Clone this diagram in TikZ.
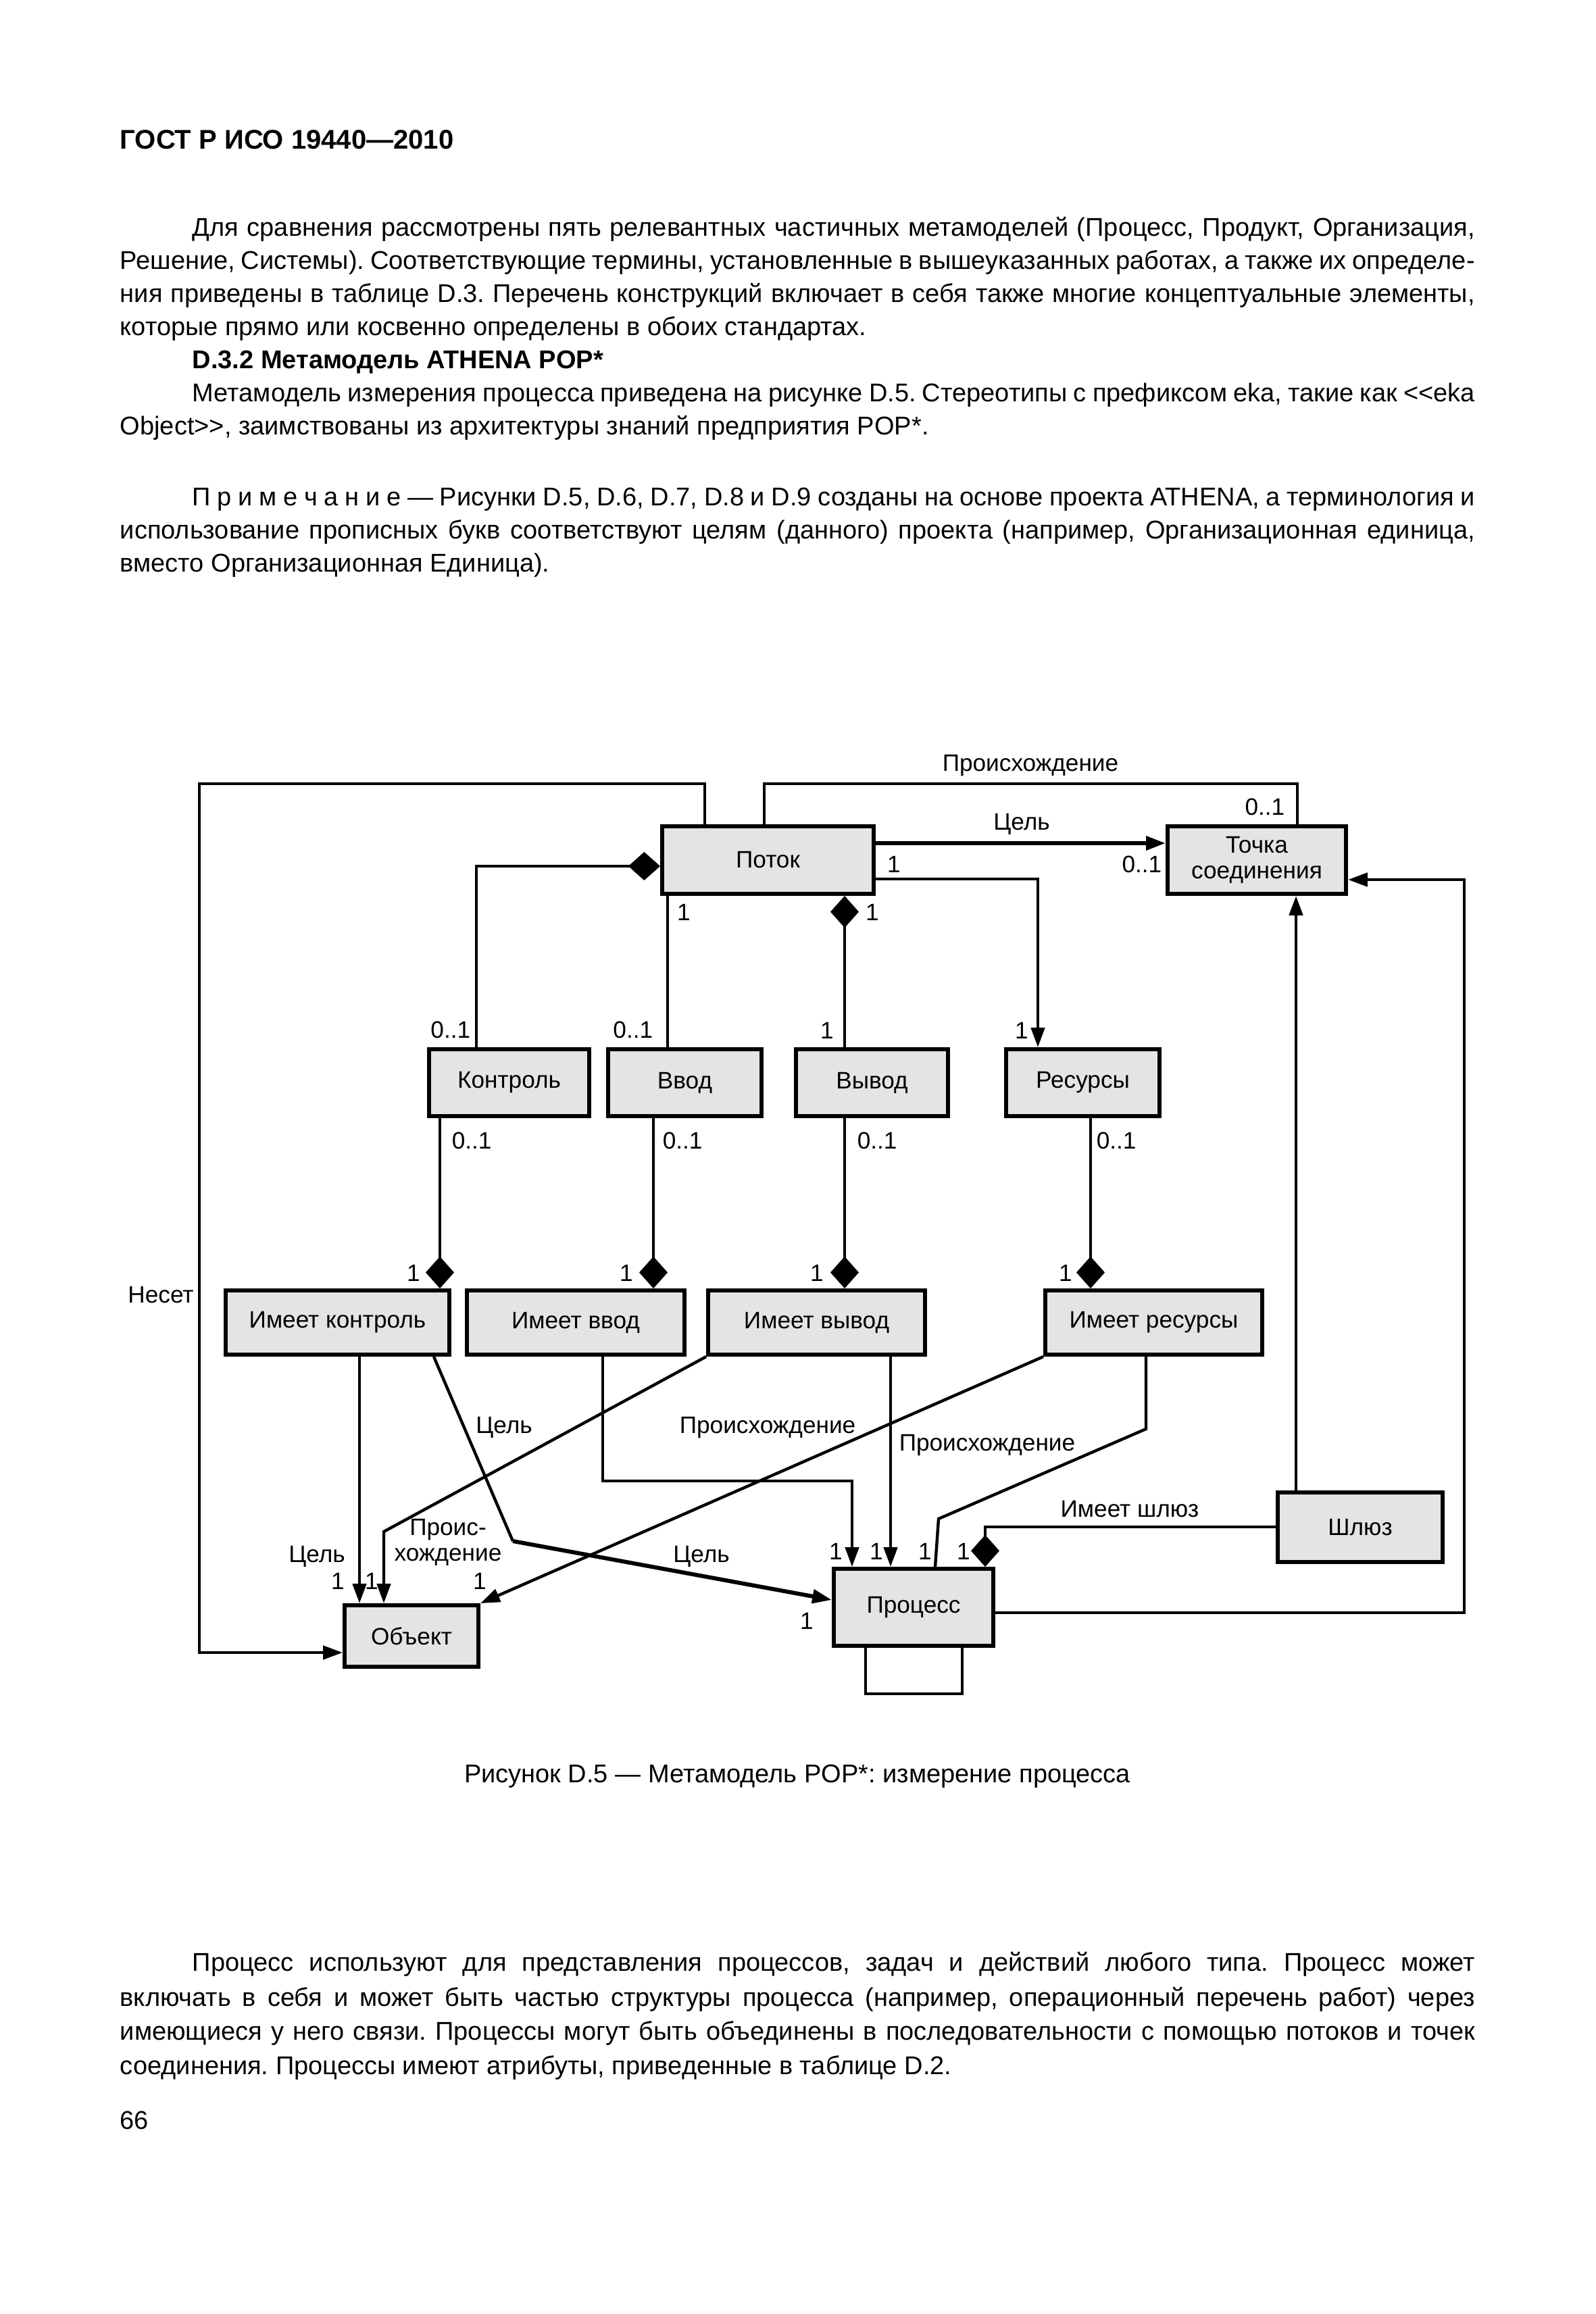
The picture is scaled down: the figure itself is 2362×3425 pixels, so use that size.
\documentclass[tikz,border=0pt]{standalone}
\usepackage{fontspec}
\setmainfont{Liberation Sans}
\usetikzlibrary{arrows.meta,calc}
\definecolor{boxfill}{HTML}{E4E4E4}
\frenchspacing
\newcommand\bodyf{\fontsize{9.5}{12}\selectfont\frenchspacing}
\newcommand\dgf{\fontsize{8.8}{9.6}\selectfont}
\newlength\fullw \setlength\fullw{501.25pt}
\newlength\indw \setlength\indw{474.5pt}
\begin{document}
\begin{tikzpicture}[x=0.25pt,y=-0.25pt,
  box/.style={draw, line width=1.5pt, fill=boxfill, inner sep=0pt, font=\dgf, align=center},
  conn/.style={line width=1.1pt},
  thk/.style={line width=1.5pt},
  arr/.style={-{Triangle[length=7.2pt,width=5pt]}},
  dmds/.style={{Diamond[length=11.8pt,width=10.5pt]}-},
  dmde/.style={-{Diamond[length=11.8pt,width=10.5pt]}},
  lab/.style={font=\dgf, inner sep=0pt},
  txt/.style={font=\bodyf, inner sep=0pt, anchor=base west}]
\useasboundingbox (0,0) rectangle (2362,3425);
\fill[white] (0,0) rectangle (2362,3425);

% ---------- page text ----------
\node[txt, font=\bfseries\fontsize{10}{12}\selectfont] (hdr) at (177,221) {ГОСТ Р ИСО 19440—2010};
\node[txt] (t1) at (284,349) {\hbox to\indw{Для сравнения рассмотрены пять релевантных частичных метамоделей (Процесс, Продукт, Организация,}};
\node[txt] (t2) at (177,398) {\hbox to\fullw{Решение, Системы). Соответствующие термины, установленные в вышеуказанных работах, а также их определе-}};
\node[txt] (t3) at (177,447) {\hbox to\fullw{ния приведены в таблице D.3. Перечень конструкций включает в себя также многие концептуальные элементы,}};
\node[txt] (t4) at (177,496) {которые прямо или косвенно определены в обоих стандартах.};
\node[txt, font=\bfseries\bodyf] (t5) at (284,545) {D.3.2 Метамодель ATHENA POP*};
\node[txt] (t6) at (284,594) {\hbox to\indw{Метамодель измерения процесса приведена на рисунке D.5. Стереотипы с префиксом eka, такие как <{}<eka}};
\node[txt] (t7) at (177,643) {Object>{}>, заимствованы из архитектуры знаний предприятия POP*.};
\node[txt] (t8) at (284,748) {\hbox to\indw{П р и м е ч а н и е — Рисунки D.5, D.6, D.7, D.8 и D.9 созданы на основе проекта ATHENA, а терминология и}};
\node[txt] (t9) at (177,797) {\hbox to\fullw{использование прописных букв соответствуют целям (данного) проекта (например, Организационная единица,}};
\node[txt] (t10) at (177,846) {вместо Организационная Единица).};

\node[txt, anchor=base] (cap) at (1180,2638) {Рисунок D.5 — Метамодель POP*: измерение процесса};

\node[txt] (b1) at (284,2917) {\hbox to\indw{Процесс используют для представления процессов, задач и действий любого типа. Процесс может}};
\node[txt] (b2) at (177,2969) {\hbox to\fullw{включать в себя и может быть частью структуры процесса (например, операционный перечень работ) через}};
\node[txt] (b3) at (177,3019) {\hbox to\fullw{имеющиеся у него связи. Процессы могут быть объединены в последовательности с помощью потоков и точек}};
\node[txt] (b4) at (177,3070) {соединения. Процессы имеют атрибуты, приведенные в таблице D.2.};
\node[txt] (pg) at (177,3151) {66};

% ---------- boxes ----------
\node[box, minimum width=313*0.25pt, minimum height=100*0.25pt] (potok) at (1136.5,1273) {Поток};
\node[box, minimum width=264*0.25pt, minimum height=100*0.25pt] (tochka) at (1860,1273) {Точка\\соединения};
\node[box, minimum width=237*0.25pt, minimum height=99*0.25pt] (kontr) at (753.5,1602.5) {Контроль};
\node[box, minimum width=227*0.25pt, minimum height=99*0.25pt] (vvod) at (1013.5,1602.5) {Ввод};
\node[box, minimum width=225*0.25pt, minimum height=99*0.25pt] (vyvod) at (1290.5,1602.5) {Вывод};
\node[box, minimum width=227*0.25pt, minimum height=99*0.25pt] (res) at (1602.5,1602.5) {Ресурсы};
\node[box, minimum width=331*0.25pt, minimum height=95*0.25pt] (ik) at (499.5,1957.5) {Имеет контроль};
\node[box, minimum width=322*0.25pt, minimum height=95*0.25pt] (iv) at (852,1957.5) {Имеет ввод};
\node[box, minimum width=321*0.25pt, minimum height=95*0.25pt] (ivy) at (1208.5,1957.5) {Имеет вывод};
\node[box, minimum width=321*0.25pt, minimum height=95*0.25pt] (ir) at (1707.5,1957.5) {Имеет ресурсы};
\node[box, minimum width=198*0.25pt, minimum height=91*0.25pt] (obj) at (609,2421.5) {Объект};
\node[box, minimum width=236*0.25pt, minimum height=114*0.25pt] (proc) at (1352,2379) {Процесс};
\node[box, minimum width=244*0.25pt, minimum height=103*0.25pt] (shl) at (2013,2260.5) {Шлюз};

% ---------- coordinates ----------
\coordinate (n1) at (1043,1160); \coordinate (n2) at (295,1160); \coordinate (n3) at (295,2446);
\coordinate (p1) at (1131,1160); \coordinate (p2) at (1920,1160);
\coordinate (g1) at (1500,1248);
\coordinate (r1) at (1536,1301);
\coordinate (k1) at (705,1282);
\coordinate (v1) at (988,1400);
\coordinate (w1) at (1250,1400);
\coordinate (d1) at (651,1780); \coordinate (d2) at (967,1780);
\coordinate (d3) at (1250,1780); \coordinate (d4) at (1614,1780);
\coordinate (a12) at (532,2200);
\coordinate (a13) at (642,2100); \coordinate (a13m) at (759,2281); \coordinate (a13e) at (1100,2368);
\coordinate (a14m) at (568,2267);
\coordinate (a15) at (892,2192); \coordinate (a15b) at (1261,2192);
\coordinate (a16) at (1318,2200);
\coordinate (a18a) at (1696,2115); \coordinate (a18b) at (1389,2248); \coordinate (a18c) at (1384,2300);
\coordinate (a19) at (1458,2260);
\coordinate (a20) at (1918,1800);
\coordinate (a21a) at (2167,2387); \coordinate (a21b) at (2167,1302);
\coordinate (a22a) at (1281,2507); \coordinate (a22b) at (1424,2507);

% ---------- connectors ----------
\draw[conn, arr] (n1 |- potok.north) -- (n1) -- (n2) -- (n3) -- (n3 -| obj.west);
\draw[conn] (p1 |- potok.north) -- (p1) -- (p2) -- (p2 |- tochka.north);
\draw[thk, arr] (g1 -| potok.east) -- (g1 -| tochka.west);
\draw[conn, arr] (r1 -| potok.east) -- (r1) -- (r1 |- res.north);
\draw[conn, dmds] (k1 -| potok.west) -- (k1) -- (k1 |- kontr.north);
\draw[conn] (v1 |- potok.south) -- (v1 |- vvod.north);
\draw[conn, dmds] (w1 |- potok.south) -- (w1 |- vyvod.north);
\draw[conn, dmde] (d1 |- kontr.south) -- (d1 |- ik.north);
\draw[conn, dmde] (d2 |- vvod.south) -- (d2 |- iv.north);
\draw[conn, dmde] (d3 |- vyvod.south) -- (d3 |- ivy.north);
\draw[conn, dmde] (d4 |- res.south) -- (d4 |- ir.north);
\draw[conn, arr] (a12 |- ik.south) -- (a12 |- obj.north);
\draw[conn] (a13 |- ik.south) -- (a13m);
\draw[thk, arr] (a13m) -- (a13e -| proc.west);
\draw[conn, arr] (ivy.south west) -- (a14m) -- (a14m |- obj.north);
\draw[conn, arr] (a15 |- iv.south) -- (a15) -- (a15b) -- (a15b |- proc.north);
\draw[conn, arr] (a16 |- ivy.south) -- (a16 |- proc.north);
\draw[conn, arr] (ir.south west) -- (obj.north east);
\draw[conn] (a18a |- ir.south) -- (a18a) -- (a18b) -- (a18c |- proc.north);
\draw[conn, dmds] (a19 |- proc.north) -- (a19) -- (a19 -| shl.west);
\draw[conn, arr] (a20 |- shl.north) -- (a20 |- tochka.south);
\draw[conn, arr] (a21a -| proc.east) -- (a21a) -- (a21b) -- (a21b -| tochka.east);
\draw[conn] (a22a |- proc.south) -- (a22a) -- (a22b) -- (a22b |- proc.south);

% ---------- labels ----------
\node[lab] (l1) at (1525,1133) {Происхождение};
\node[lab, anchor=east] (l2) at (1902,1194) {0..1};
\node[lab] (l3) at (1512,1220) {Цель};
\node[lab, anchor=east] (l4) at (1720,1279) {0..1};
\node[lab] (l5) at (1323,1279) {1};
\node[lab] (l6) at (1512,1525) {1};
\node[lab, anchor=east] (l7) at (697,1524) {0..1};
\node[lab] (l8) at (1012,1350) {1};
\node[lab, anchor=east] (l9) at (967,1524) {0..1};
\node[lab] (l10) at (1291,1350) {1};
\node[lab] (l11) at (1224,1525) {1};
\node[lab, anchor=west] (l12) at (668,1688) {0..1};
\node[lab, anchor=west] (l13) at (980,1688) {0..1};
\node[lab, anchor=west] (l14) at (1268,1688) {0..1};
\node[lab, anchor=west] (l15) at (1622,1688) {0..1};
\node[lab] (l16) at (612,1884) {1};
\node[lab] (l17) at (927,1884) {1};
\node[lab] (l18) at (1209,1884) {1};
\node[lab] (l19) at (1577,1884) {1};
\node[lab] (l20) at (238,1917) {Несет};
\node[lab] (l21) at (746,2113) {Цель};
\node[lab, anchor=west] (l22) at (1005,2113) {Происхождение};
\node[lab] (l23) at (1461,2139) {Происхождение};
\node[lab] (l24) at (1672,2234) {Имеет шлюз};
\node[lab, align=center] (l25) at (663,2283) {Проис-\\хождение};
\node[lab] (l26) at (469,2304) {Цель};
\node[lab] (l27) at (1038,2304) {Цель};
\node[lab] (l28) at (500,2340) {1};
\node[lab] (l29) at (550,2340) {1};
\node[lab] (l30) at (710,2340) {1};
\node[lab] (l31) at (1237,2296) {1};
\node[lab] (l32) at (1297,2296) {1};
\node[lab] (l33) at (1369,2296) {1};
\node[lab] (l34) at (1426,2296) {1};
\node[lab] (l35) at (1194,2399) {1};
\end{tikzpicture}
\end{document}
